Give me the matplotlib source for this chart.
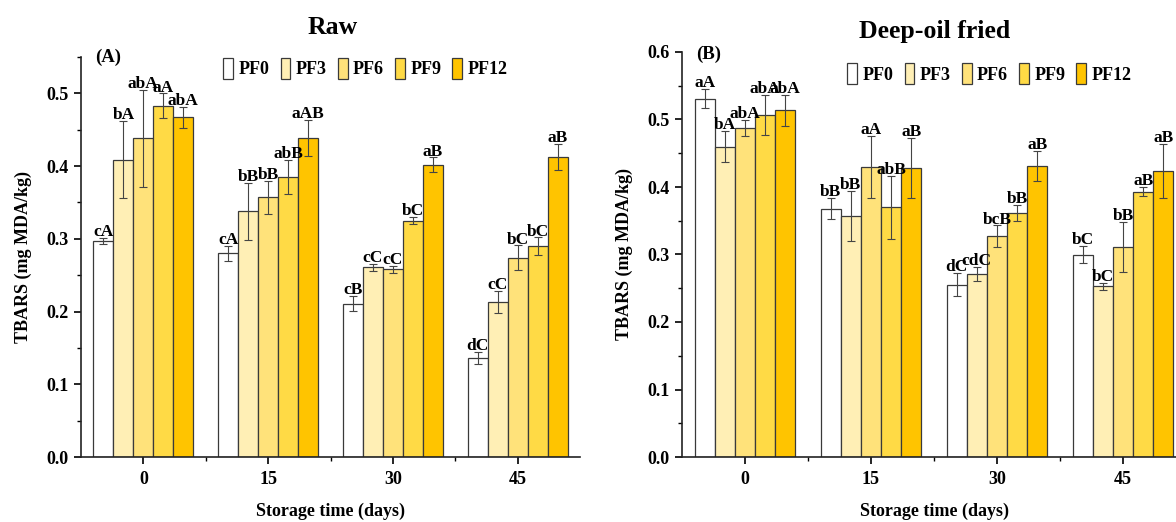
import numpy as np
import matplotlib.pyplot as plt
from matplotlib.ticker import MultipleLocator, FixedLocator

plt.rcParams['font.family'] = ['Liberation Serif', 'DejaVu Serif']
plt.rcParams['font.weight'] = 'bold'
plt.rcParams['axes.labelweight'] = 'bold'

days = ['0', '15', '30', '45']
groups = ['PF0', 'PF3', 'PF6', 'PF9', 'PF12']
colors = ['#FFFFFF', '#FFEFB5', '#FFE27A', '#FFDA45', '#FFC400']

# Raw
raw_pf0 = [0.297, 0.280, 0.211, 0.136]
raw_pf3 = [0.409, 0.338, 0.261, 0.213]
raw_pf6 = [0.438, 0.357, 0.258, 0.274]
raw_pf9 = [0.483, 0.385, 0.325, 0.290]
raw_pf12 = [0.467, 0.439, 0.402, 0.413]

raw_err_pf0 = [0.004, 0.010, 0.010, 0.008]
raw_err_pf3 = [0.053, 0.039, 0.005, 0.015]
raw_err_pf6 = [0.067, 0.023, 0.005, 0.017]
raw_err_pf9 = [0.017, 0.024, 0.005, 0.012]
raw_err_pf12 = [0.014, 0.025, 0.010, 0.018]

raw_lab_pf0 = ['cA', 'cA', 'cB', 'dC']
raw_lab_pf3 = ['bA', 'bB', 'cC', 'cC']
raw_lab_pf6 = ['abA', 'bB', 'cC', 'bC']
raw_lab_pf9 = ['aA', 'abB', 'bC', 'bC']
raw_lab_pf12 = ['abA', 'aAB', 'aB', 'aB']

# Deep-oil fried
fried_pf0 = [0.531, 0.368, 0.255, 0.300]
fried_pf3 = [0.460, 0.357, 0.271, 0.253]
fried_pf6 = [0.488, 0.430, 0.327, 0.311]
fried_pf9 = [0.507, 0.370, 0.362, 0.393]
fried_pf12 = [0.514, 0.428, 0.431, 0.423]

fried_err_pf0 = [0.014, 0.016, 0.017, 0.012]
fried_err_pf3 = [0.023, 0.037, 0.010, 0.005]
fried_err_pf6 = [0.012, 0.046, 0.016, 0.037]
fried_err_pf9 = [0.030, 0.047, 0.012, 0.007]
fried_err_pf12 = [0.023, 0.044, 0.022, 0.040]

fried_lab_pf0 = ['aA', 'bB', 'dC', 'bC']
fried_lab_pf3 = ['bA', 'bB', 'cdC', 'bC']
fried_lab_pf6 = ['abA', 'aA', 'bcB', 'bB']
fried_lab_pf9 = ['abA', 'abB', 'bB', 'aB']
fried_lab_pf12 = ['abA', 'aB', 'aB', 'aB']

raw_means = [raw_pf0, raw_pf3, raw_pf6, raw_pf9, raw_pf12]
raw_errs = [raw_err_pf0, raw_err_pf3, raw_err_pf6, raw_err_pf9, raw_err_pf12]
raw_labs = [raw_lab_pf0, raw_lab_pf3, raw_lab_pf6, raw_lab_pf9, raw_lab_pf12]
fried_means = [fried_pf0, fried_pf3, fried_pf6, fried_pf9, fried_pf12]
fried_errs = [fried_err_pf0, fried_err_pf3, fried_err_pf6, fried_err_pf9, fried_err_pf12]
fried_labs = [fried_lab_pf0, fried_lab_pf3, fried_lab_pf6, fried_lab_pf9, fried_lab_pf12]

W, H = 1176, 522
fig = plt.figure(figsize=(W / 100, H / 100), dpi=100)
ax1 = fig.add_axes([81 / W, 65 / H, 499 / W, 400 / H])
ax2 = fig.add_axes([682 / W, 65 / H, 504 / W, 405 / H])

x = np.arange(len(days))
bw = 0.16


def draw(ax, means, errs, labs, ymax, panel, leg_anchor, panel_y):
    for i, g in enumerate(groups):
        pos = x + (i - 2) * bw
        ax.bar(pos, means[i], bw, color=colors[i], edgecolor='#3a3a3a',
               linewidth=0.9, label=g, zorder=2)
        ax.errorbar(pos, means[i], yerr=errs[i], fmt='none', ecolor='#444444',
                    elinewidth=0.8, capsize=3, capthick=0.8, zorder=3)
        for p, m, e, t in zip(pos, means[i], errs[i], labs[i]):
            ax.text(p, m + e - 0.003, t, ha='center', va='bottom',
                    fontsize=12.5, fontweight='bold', zorder=4)
    ax.set_xlim(-0.5, 3.5)
    ax.set_ylim(0, ymax)
    ax.set_xticks(x)
    ax.set_xticklabels(days)
    ax.xaxis.set_minor_locator(FixedLocator(x[:-1] + 0.5))
    ax.yaxis.set_major_locator(MultipleLocator(0.1))
    ax.yaxis.set_minor_locator(MultipleLocator(0.05))
    ax.yaxis.set_major_formatter(plt.FuncFormatter(lambda v, p: f'{v:.1f}'))
    for s in ['top', 'right']:
        ax.spines[s].set_visible(False)
    for s in ['left', 'bottom']:
        ax.spines[s].set_linewidth(1.2)
        ax.spines[s].set_color('#222222')
    ax.tick_params(which='major', direction='out', length=5, width=1.2,
                   labelsize=13, pad=4)
    ax.tick_params(which='minor', direction='out', length=3, width=1.0)
    ax.tick_params(axis='x', pad=5)
    ax.set_xlabel('Storage time (days)', fontsize=13, labelpad=11)
    ax.set_ylabel('TBARS (mg MDA/kg)', fontsize=13, labelpad=10)
    ax.text(0.028, panel_y, panel, transform=ax.transAxes, ha='left', va='center',
            fontsize=13.5, fontweight='bold')
    ax.legend(ncol=5, frameon=False, loc='center', bbox_to_anchor=leg_anchor,
              fontsize=13, handlelength=0.55, handleheight=1.4,
              handletextpad=0.3, columnspacing=0.6, borderaxespad=0)


draw(ax1, raw_means, raw_errs, raw_labs, 0.55, '(A)', (0.57, 0.972), 1.0)
draw(ax2, fried_means, fried_errs, fried_labs, 0.6, '(B)', (0.61, 0.946), 0.993)

fig.text(333 / W, 1 - 27 / H, 'Raw', ha='center', va='center',
         fontsize=18.5, fontweight='bold')
fig.text(935 / W, 1 - 31 / H, 'Deep-oil fried', ha='center', va='center',
         fontsize=18.5, fontweight='bold')

fig.savefig('out.png', dpi=100)
